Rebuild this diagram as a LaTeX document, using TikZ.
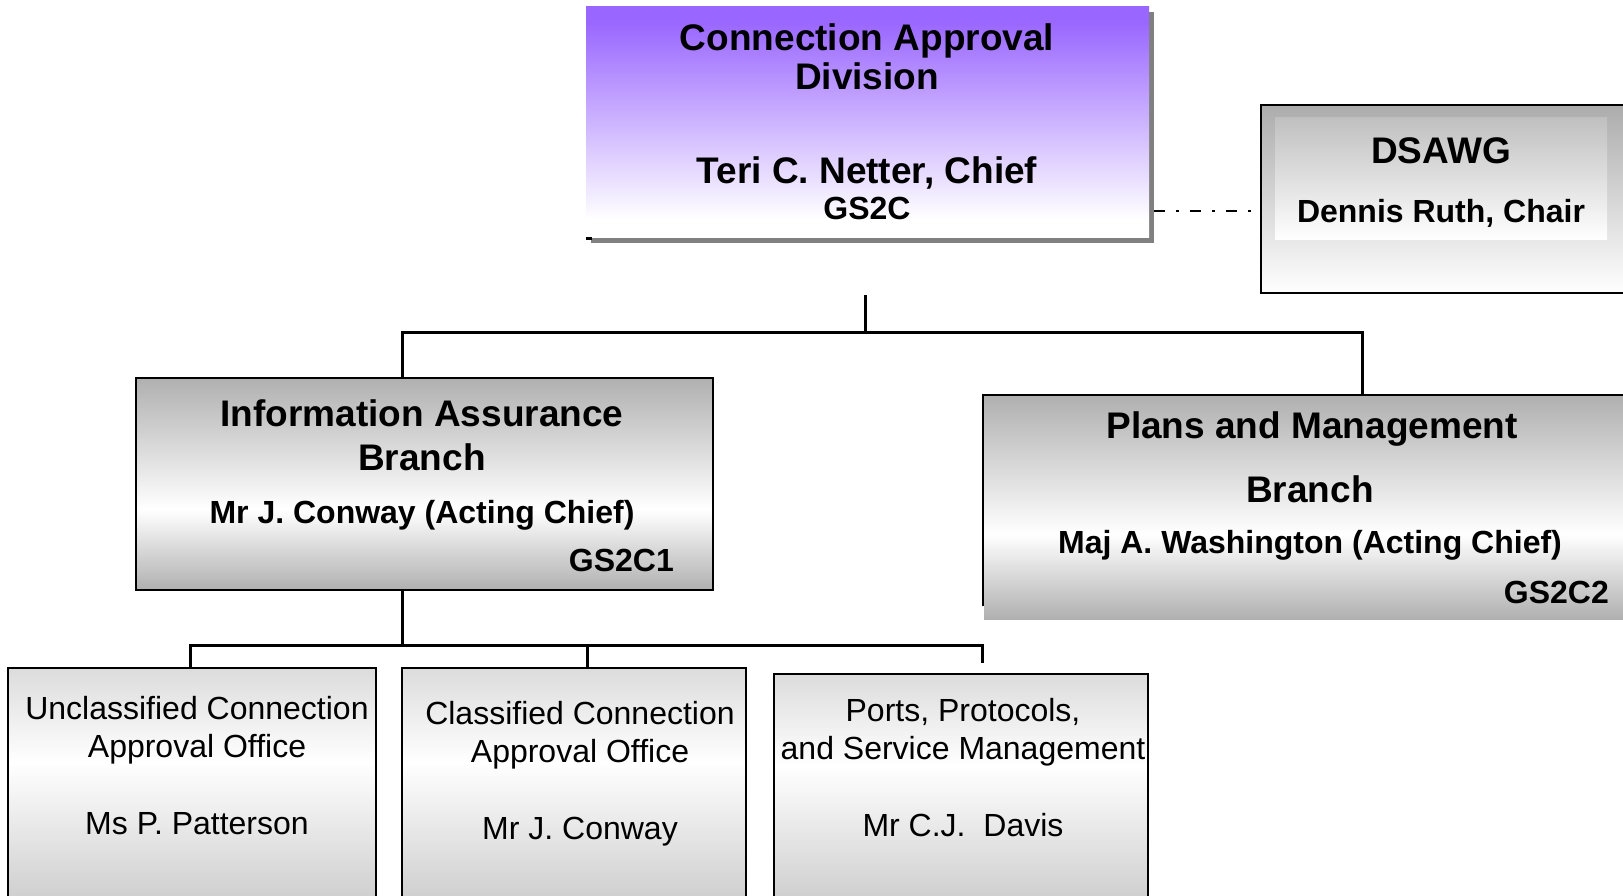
\documentclass[tikz,border=0pt]{standalone}
\usepackage{fontspec}
\setmainfont{Liberation Sans}
\usetikzlibrary{calc}

\definecolor{cadviolet}{RGB}{153,102,255}
\definecolor{brgray}{RGB}{176,176,176}
\definecolor{dstop}{RGB}{172,172,172}
\definecolor{dsinner}{RGB}{192,192,192}
\definecolor{offtop}{RGB}{220,220,220}
\definecolor{offbot}{RGB}{205,205,205}
\definecolor{shadowgray}{RGB}{128,128,128}

% division box: violet band at the top fading to white
\pgfdeclareverticalshading{cadshade}{100bp}{%
  color(0bp)=(white); color(29bp)=(white);
  color(72bp)=(cadviolet); color(100bp)=(cadviolet)}
% branch boxes: gray at top and bottom, white band below the middle
\pgfdeclareverticalshading{branchshade}{100bp}{%
  color(0bp)=(brgray); color(25bp)=(brgray); color(44bp)=(white);
  color(75bp)=(brgray); color(100bp)=(brgray)}
% office boxes: light gray top, white upper middle, light gray bottom
\pgfdeclareverticalshading{officeshade}{100bp}{%
  color(0bp)=(offbot); color(25bp)=(offbot); color(55bp)=(white);
  color(75bp)=(offtop); color(100bp)=(offtop)}

\tikzset{
  boxbase/.style={rectangle, inner sep=0pt, outer sep=0pt},
  frame/.style={draw=black, line width=2pt},
  conn/.style={draw=black, line width=3pt},
  dashdot/.style={draw=black, line width=2pt, dash pattern=on 11pt off 11pt on 3pt off 11pt},
  hd/.style={font=\fontsize{37}{40}\selectfont\bfseries, anchor=base, inner sep=0pt},
  sub/.style={font=\fontsize{32}{36}\selectfont\bfseries, anchor=base, inner sep=0pt},
  off/.style={font=\fontsize{32}{36}\selectfont, anchor=base, inner sep=0pt},
}

\begin{document}
\begin{tikzpicture}[x=1pt,y=-1pt]
\useasboundingbox (0,0) rectangle (1623,896);
\fill[white] (0,0) rectangle (1623,896);

% ---- division box with drop shadow
\fill[shadowgray] (591,12) rectangle (1154,243);
\node[boxbase, minimum width=563pt, minimum height=231pt,
      shade, shading=cadshade] (cad) at (867.5,122.5) {};
\draw[black, line width=3pt] (586,238.5) -- (592,238.5);
\node[hd] (cad-t1) at (867,51) {Connection Approval};
\node[hd] (cad-t2) at (867,90) {Division};
\node[hd] (cad-t3) at (867,184) {Teri C. Netter, Chief};
\node[sub] (cad-t4) at (867,220) {GS2C};

% ---- working group box
\node[boxbase, frame, minimum width=379pt, minimum height=188pt,
      top color=dstop, bottom color=white] (ds) at (1450.5,199) {};
\node[boxbase, minimum width=332pt, minimum height=122pt,
      top color=dsinner, bottom color=white] (ds-in) at (1441,179) {};
\node[hd] (ds-t1) at (1441,164) {DSAWG};
\node[sub] (ds-t2) at (1441,223) {Dennis Ruth, Chair};

% ---- information assurance branch
\node[boxbase, frame, minimum width=577pt, minimum height=212pt,
      shade, shading=branchshade] (ia) at (424.5,484) {};
\node[hd] (ia-t1) at (422,426) {Information Assurance};
\node[hd] (ia-t2) at (422,470) {Branch};
\node[sub] (ia-t3) at (422,523) {Mr J. Conway (Acting Chief)};
\node[sub, anchor=base east] (ia-t4) at (674,571) {GS2C1};

% ---- plans and management branch
\node[boxbase, minimum width=657pt, minimum height=223pt,
      shade, shading=branchshade] (pm) at (1312.5,507.5) {};
\coordinate (pm-nw) at (983,395);
\draw[frame] (983,606) -- (pm-nw) -- (1640,395);
\node[hd] (pm-t1) at (1312,438) {Plans and Management};
\node[hd] (pm-t2) at (1310,502) {Branch};
\node[sub] (pm-t3) at (1310,553) {Maj A. Washington (Acting Chief)};
\node[sub, anchor=base east] (pm-t4) at (1609,603) {GS2C2};

% ---- offices
\node[boxbase, frame, minimum width=368pt, minimum height=236pt,
      shade, shading=officeshade] (uca) at (192,786) {};
\node[off] (uca-t1) at (197,719) {Unclassified Connection};
\node[off] (uca-t2) at (197,757) {Approval Office};
\node[off] (uca-t3) at (197,834) {Ms P. Patterson};

\node[boxbase, frame, minimum width=344pt, minimum height=236pt,
      shade, shading=officeshade] (cca) at (574,786) {};
\node[off] (cca-t1) at (580,724) {Classified Connection};
\node[off] (cca-t2) at (580,762) {Approval Office};
\node[off] (cca-t3) at (580,839) {Mr J. Conway};

\node[boxbase, frame, minimum width=374pt, minimum height=230pt,
      shade, shading=officeshade] (pps) at (961,789) {};
\node[off] (pps-t1) at (963,721) {Ports, Protocols,};
\node[off] (pps-t2) at (963,759) {and Service Management};
\node[off] (pps-t3) at (963,836) {Mr C.J.\ \ Davis};

% ---- connectors
\coordinate (cad-stem) at (865,295);
\coordinate (bus-a) at (865,332);
\coordinate (bus-l) at (402,332);
\coordinate (bus-r) at (1362,332);
\draw[conn] (cad-stem) -- (bus-a);
\draw[conn] (bus-l |- ia.north) -- (bus-l) -- (bus-r) -- (bus-r |- pm-nw);

\coordinate (bus2-l) at (190,645);
\coordinate (bus2-r) at (982,645);
\coordinate (cca-tap) at (587,645);
\coordinate (pps-stub) at (982,663);
\draw[conn] (bus-l |- ia.south) -- (bus-l |- bus2-l);
\draw[conn] (bus2-l |- uca.north) -- (bus2-l) -- (bus2-r) -- (pps-stub);
\draw[conn] (cca-tap) -- (cca-tap |- cca.north);

% dotted-dashed advisory link
\coordinate (link) at (1154,211);
\draw[dashdot] (link) -- (link -| ds.west);
\end{tikzpicture}
\end{document}
